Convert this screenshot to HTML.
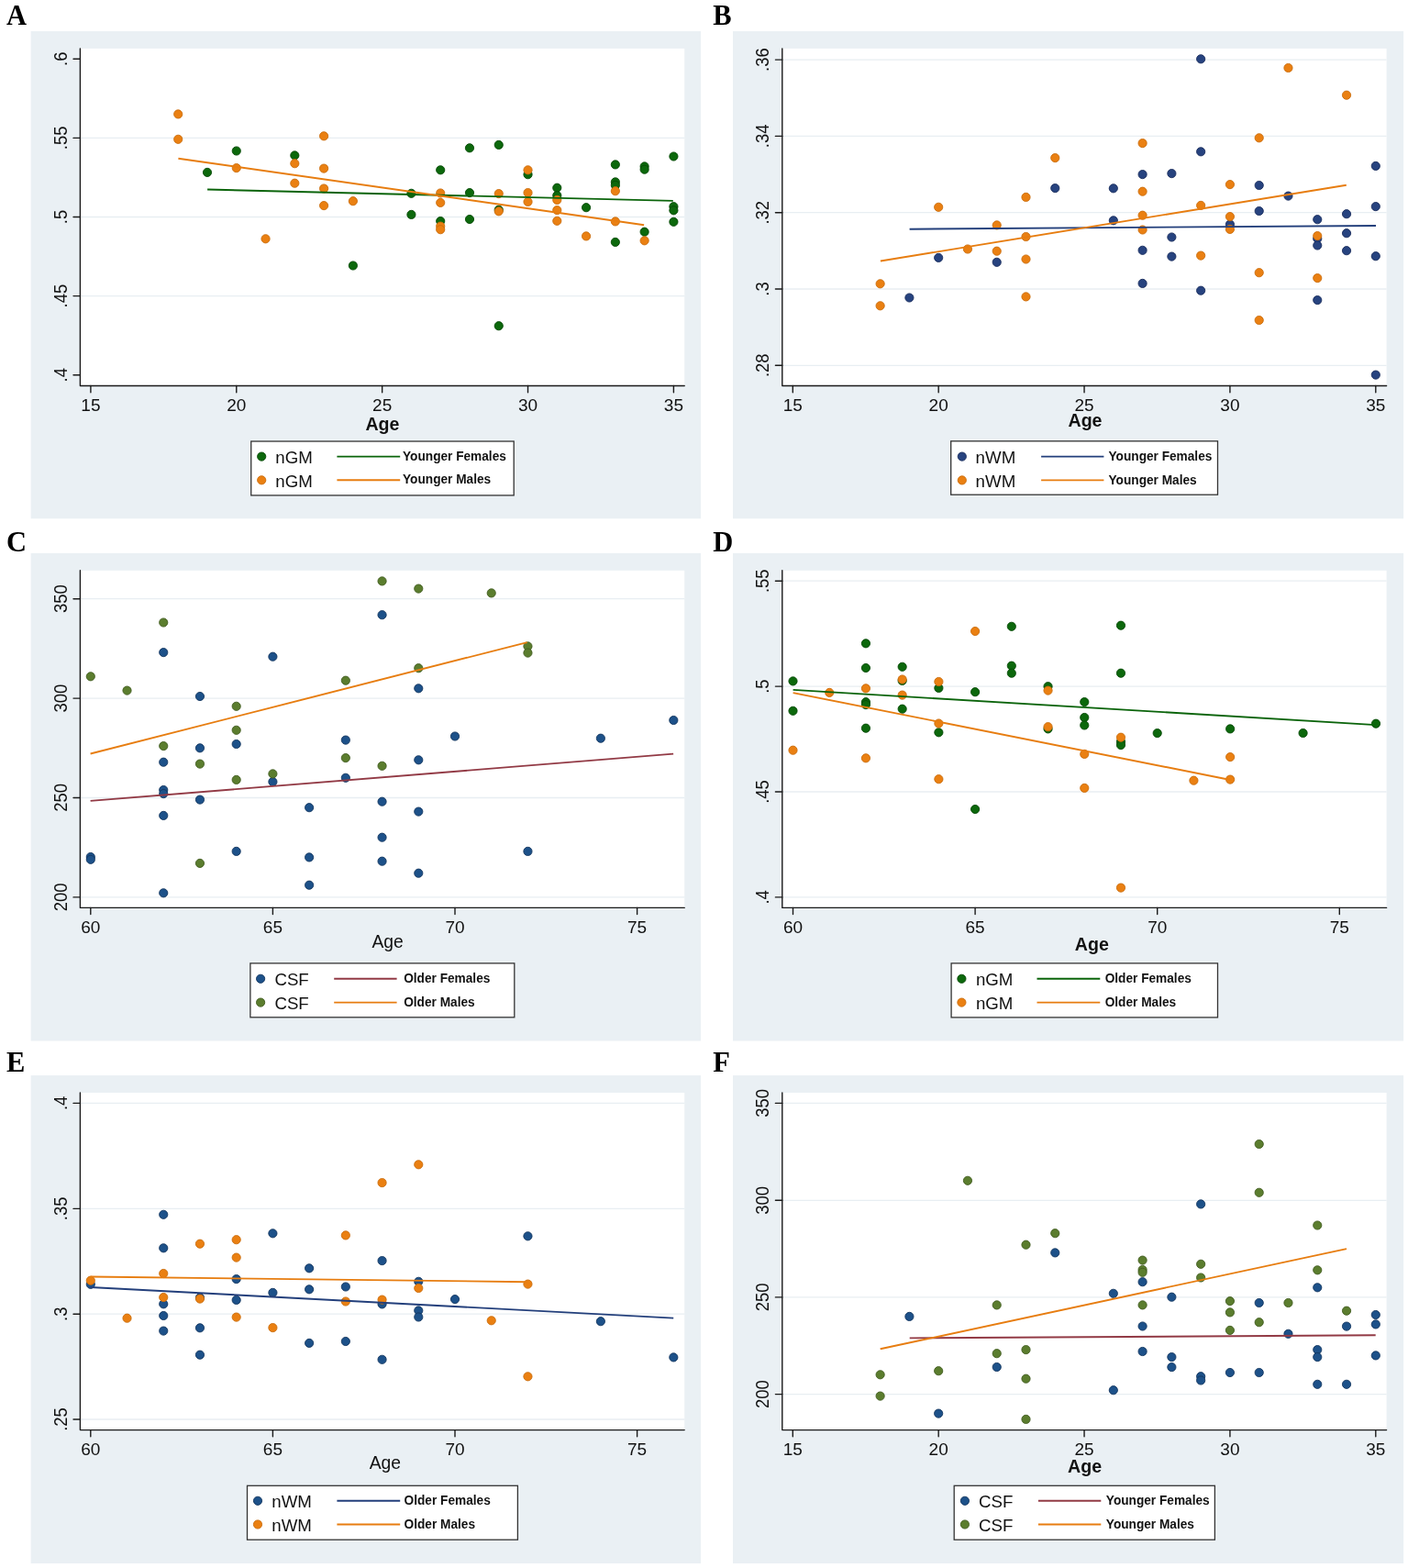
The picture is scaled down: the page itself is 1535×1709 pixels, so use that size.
<!DOCTYPE html>
<html><head><meta charset="utf-8"><title>Figure</title><style>
html,body{margin:0;padding:0;background:#fff;}
body{width:1535px;height:1709px;overflow:hidden;}
svg{display:block;}
text{font-family:"Liberation Sans",Arial,sans-serif;fill:#111;}
.tk{font-size:19px;}
.xt{font-size:19.3px;}
.xtb{font-size:19.6px;font-weight:bold;}
.lg{font-size:18.7px;}
.lgb{font-size:15.2px;font-weight:bold;}
.let{font-family:"Liberation Serif","Times New Roman",serif;font-size:30.5px;font-weight:bold;fill:#000;}
</style></head>
<body><svg width="1535" height="1709" viewBox="0 0 1535 1709">
<rect width="1535" height="1709" fill="#fff"/>
<rect x="33.6" y="34" width="730.4" height="531.3" fill="#eaf0f4"/>
<rect x="87.4" y="52.9" width="658.8" height="367.6" fill="#fff"/>
<line x1="88.4" y1="150.4" x2="746.2" y2="150.4" stroke="#e8eef2" stroke-width="1.3"/>
<line x1="88.4" y1="236.5" x2="746.2" y2="236.5" stroke="#e8eef2" stroke-width="1.3"/>
<line x1="88.4" y1="322.6" x2="746.2" y2="322.6" stroke="#e8eef2" stroke-width="1.3"/>
<circle cx="226" cy="187.9" r="4.6" fill="#0c680c" stroke="#064806" stroke-width="0.9"/>
<circle cx="257.77" cy="164.5" r="4.6" fill="#0c680c" stroke="#064806" stroke-width="0.9"/>
<circle cx="321.32" cy="169.4" r="4.6" fill="#0c680c" stroke="#064806" stroke-width="0.9"/>
<circle cx="384.88" cy="289.5" r="4.6" fill="#0c680c" stroke="#064806" stroke-width="0.9"/>
<circle cx="448.42" cy="210.8" r="4.6" fill="#0c680c" stroke="#064806" stroke-width="0.9"/>
<circle cx="448.42" cy="233.9" r="4.6" fill="#0c680c" stroke="#064806" stroke-width="0.9"/>
<circle cx="480.2" cy="185.3" r="4.6" fill="#0c680c" stroke="#064806" stroke-width="0.9"/>
<circle cx="480.2" cy="241" r="4.6" fill="#0c680c" stroke="#064806" stroke-width="0.9"/>
<circle cx="511.98" cy="161.3" r="4.6" fill="#0c680c" stroke="#064806" stroke-width="0.9"/>
<circle cx="511.98" cy="210.1" r="4.6" fill="#0c680c" stroke="#064806" stroke-width="0.9"/>
<circle cx="511.98" cy="239" r="4.6" fill="#0c680c" stroke="#064806" stroke-width="0.9"/>
<circle cx="543.75" cy="157.9" r="4.6" fill="#0c680c" stroke="#064806" stroke-width="0.9"/>
<circle cx="543.75" cy="228.7" r="4.6" fill="#0c680c" stroke="#064806" stroke-width="0.9"/>
<circle cx="543.75" cy="355.2" r="4.6" fill="#0c680c" stroke="#064806" stroke-width="0.9"/>
<circle cx="575.52" cy="190.2" r="4.6" fill="#0c680c" stroke="#064806" stroke-width="0.9"/>
<circle cx="607.3" cy="204.7" r="4.6" fill="#0c680c" stroke="#064806" stroke-width="0.9"/>
<circle cx="607.3" cy="213.1" r="4.6" fill="#0c680c" stroke="#064806" stroke-width="0.9"/>
<circle cx="639.07" cy="226.2" r="4.6" fill="#0c680c" stroke="#064806" stroke-width="0.9"/>
<circle cx="670.85" cy="179.4" r="4.6" fill="#0c680c" stroke="#064806" stroke-width="0.9"/>
<circle cx="670.85" cy="198.4" r="4.6" fill="#0c680c" stroke="#064806" stroke-width="0.9"/>
<circle cx="670.85" cy="201.9" r="4.6" fill="#0c680c" stroke="#064806" stroke-width="0.9"/>
<circle cx="670.85" cy="263.9" r="4.6" fill="#0c680c" stroke="#064806" stroke-width="0.9"/>
<circle cx="702.62" cy="181.4" r="4.6" fill="#0c680c" stroke="#064806" stroke-width="0.9"/>
<circle cx="702.62" cy="184.7" r="4.6" fill="#0c680c" stroke="#064806" stroke-width="0.9"/>
<circle cx="702.62" cy="252.7" r="4.6" fill="#0c680c" stroke="#064806" stroke-width="0.9"/>
<circle cx="734.4" cy="170.5" r="4.6" fill="#0c680c" stroke="#064806" stroke-width="0.9"/>
<circle cx="734.4" cy="225.2" r="4.6" fill="#0c680c" stroke="#064806" stroke-width="0.9"/>
<circle cx="734.4" cy="229.3" r="4.6" fill="#0c680c" stroke="#064806" stroke-width="0.9"/>
<circle cx="734.4" cy="241.8" r="4.6" fill="#0c680c" stroke="#064806" stroke-width="0.9"/>
<circle cx="194.22" cy="124.4" r="4.6" fill="#ea8012" stroke="#c96c0c" stroke-width="0.9"/>
<circle cx="194.22" cy="151.8" r="4.6" fill="#ea8012" stroke="#c96c0c" stroke-width="0.9"/>
<circle cx="257.77" cy="183.1" r="4.6" fill="#ea8012" stroke="#c96c0c" stroke-width="0.9"/>
<circle cx="289.55" cy="260.3" r="4.6" fill="#ea8012" stroke="#c96c0c" stroke-width="0.9"/>
<circle cx="321.32" cy="178.2" r="4.6" fill="#ea8012" stroke="#c96c0c" stroke-width="0.9"/>
<circle cx="321.32" cy="199.7" r="4.6" fill="#ea8012" stroke="#c96c0c" stroke-width="0.9"/>
<circle cx="353.1" cy="148.3" r="4.6" fill="#ea8012" stroke="#c96c0c" stroke-width="0.9"/>
<circle cx="353.1" cy="183.6" r="4.6" fill="#ea8012" stroke="#c96c0c" stroke-width="0.9"/>
<circle cx="353.1" cy="205.5" r="4.6" fill="#ea8012" stroke="#c96c0c" stroke-width="0.9"/>
<circle cx="353.1" cy="224.1" r="4.6" fill="#ea8012" stroke="#c96c0c" stroke-width="0.9"/>
<circle cx="384.88" cy="219.2" r="4.6" fill="#ea8012" stroke="#c96c0c" stroke-width="0.9"/>
<circle cx="480.2" cy="210.5" r="4.6" fill="#ea8012" stroke="#c96c0c" stroke-width="0.9"/>
<circle cx="480.2" cy="220.9" r="4.6" fill="#ea8012" stroke="#c96c0c" stroke-width="0.9"/>
<circle cx="480.2" cy="246.6" r="4.6" fill="#ea8012" stroke="#c96c0c" stroke-width="0.9"/>
<circle cx="480.2" cy="250.2" r="4.6" fill="#ea8012" stroke="#c96c0c" stroke-width="0.9"/>
<circle cx="543.75" cy="211.1" r="4.6" fill="#ea8012" stroke="#c96c0c" stroke-width="0.9"/>
<circle cx="543.75" cy="230.3" r="4.6" fill="#ea8012" stroke="#c96c0c" stroke-width="0.9"/>
<circle cx="575.52" cy="185.3" r="4.6" fill="#ea8012" stroke="#c96c0c" stroke-width="0.9"/>
<circle cx="575.52" cy="210.1" r="4.6" fill="#ea8012" stroke="#c96c0c" stroke-width="0.9"/>
<circle cx="575.52" cy="219.9" r="4.6" fill="#ea8012" stroke="#c96c0c" stroke-width="0.9"/>
<circle cx="607.3" cy="217.9" r="4.6" fill="#ea8012" stroke="#c96c0c" stroke-width="0.9"/>
<circle cx="607.3" cy="229.1" r="4.6" fill="#ea8012" stroke="#c96c0c" stroke-width="0.9"/>
<circle cx="607.3" cy="240.8" r="4.6" fill="#ea8012" stroke="#c96c0c" stroke-width="0.9"/>
<circle cx="639.07" cy="257.4" r="4.6" fill="#ea8012" stroke="#c96c0c" stroke-width="0.9"/>
<circle cx="670.85" cy="208.2" r="4.6" fill="#ea8012" stroke="#c96c0c" stroke-width="0.9"/>
<circle cx="670.85" cy="241.4" r="4.6" fill="#ea8012" stroke="#c96c0c" stroke-width="0.9"/>
<circle cx="702.62" cy="262.3" r="4.6" fill="#ea8012" stroke="#c96c0c" stroke-width="0.9"/>
<line x1="226.1" y1="206.5" x2="733.8" y2="218.9" stroke="#0b640b" stroke-width="1.9"/>
<line x1="194.4" y1="172.7" x2="702.1" y2="245.3" stroke="#e77d10" stroke-width="1.9"/>
<path d="M87.4 52.9V420.5H746.2" fill="none" stroke="#1a1a1a" stroke-width="1.4" stroke-linejoin="round" stroke-linecap="round"/>
<line x1="80" y1="64.3" x2="87.4" y2="64.3" stroke="#1a1a1a" stroke-width="1.4" stroke-linecap="round"/>
<text class="tk" transform="translate(72.9,64.3) rotate(-90) scale(0.97,1.04)" text-anchor="middle">.6</text>
<line x1="80" y1="150.4" x2="87.4" y2="150.4" stroke="#1a1a1a" stroke-width="1.4" stroke-linecap="round"/>
<text class="tk" transform="translate(72.9,150.4) rotate(-90) scale(0.97,1.04)" text-anchor="middle">.55</text>
<line x1="80" y1="236.5" x2="87.4" y2="236.5" stroke="#1a1a1a" stroke-width="1.4" stroke-linecap="round"/>
<text class="tk" transform="translate(72.9,236.5) rotate(-90) scale(0.97,1.04)" text-anchor="middle">.5</text>
<line x1="80" y1="322.6" x2="87.4" y2="322.6" stroke="#1a1a1a" stroke-width="1.4" stroke-linecap="round"/>
<text class="tk" transform="translate(72.9,322.6) rotate(-90) scale(0.97,1.04)" text-anchor="middle">.45</text>
<line x1="80" y1="408.7" x2="87.4" y2="408.7" stroke="#1a1a1a" stroke-width="1.4" stroke-linecap="round"/>
<text class="tk" transform="translate(72.9,408.7) rotate(-90) scale(0.97,1.04)" text-anchor="middle">.4</text>
<line x1="98.9" y1="420.5" x2="98.9" y2="427.7" stroke="#1a1a1a" stroke-width="1.4" stroke-linecap="round"/>
<text class="tk" x="98.9" y="448.3" text-anchor="middle">15</text>
<line x1="257.77" y1="420.5" x2="257.77" y2="427.7" stroke="#1a1a1a" stroke-width="1.4" stroke-linecap="round"/>
<text class="tk" x="257.77" y="448.3" text-anchor="middle">20</text>
<line x1="416.65" y1="420.5" x2="416.65" y2="427.7" stroke="#1a1a1a" stroke-width="1.4" stroke-linecap="round"/>
<text class="tk" x="416.65" y="448.3" text-anchor="middle">25</text>
<line x1="575.52" y1="420.5" x2="575.52" y2="427.7" stroke="#1a1a1a" stroke-width="1.4" stroke-linecap="round"/>
<text class="tk" x="575.52" y="448.3" text-anchor="middle">30</text>
<line x1="734.4" y1="420.5" x2="734.4" y2="427.7" stroke="#1a1a1a" stroke-width="1.4" stroke-linecap="round"/>
<text class="tk" x="734.4" y="448.3" text-anchor="middle">35</text>
<text class="xtb" x="416.9" y="468.9" text-anchor="middle">Age</text>
<rect x="273.75" y="481" width="286.45" height="58.9" fill="#fff" stroke="#333" stroke-width="1.3"/>
<circle cx="285.2" cy="497.6" r="4.6" fill="#0c680c" stroke="#064806" stroke-width="0.9"/>
<text class="lg" x="300.3" y="504.8">nGM</text>
<line x1="367.4" y1="497.6" x2="436.2" y2="497.6" stroke="#0b640b" stroke-width="1.9"/>
<text class="lgb" transform="translate(439,501.7) scale(0.9,1)">Younger Females</text>
<circle cx="285.2" cy="523.3" r="4.6" fill="#ea8012" stroke="#c96c0c" stroke-width="0.9"/>
<text class="lg" x="300.3" y="530.5">nGM</text>
<line x1="367.4" y1="523.3" x2="436.2" y2="523.3" stroke="#e77d10" stroke-width="1.9"/>
<text class="lgb" transform="translate(439,526.5) scale(0.9,1)">Younger Males</text>
<text class="let" transform="translate(7,26.8) scale(1,1.03)">A</text>
<rect x="799" y="34" width="731.1" height="531.3" fill="#eaf0f4"/>
<rect x="852.8" y="52.9" width="658.8" height="367.6" fill="#fff"/>
<line x1="853.8" y1="65.1" x2="1511.6" y2="65.1" stroke="#e8eef2" stroke-width="1.3"/>
<line x1="853.8" y1="148.4" x2="1511.6" y2="148.4" stroke="#e8eef2" stroke-width="1.3"/>
<line x1="853.8" y1="231.7" x2="1511.6" y2="231.7" stroke="#e8eef2" stroke-width="1.3"/>
<line x1="853.8" y1="315" x2="1511.6" y2="315" stroke="#e8eef2" stroke-width="1.3"/>
<line x1="853.8" y1="398.3" x2="1511.6" y2="398.3" stroke="#e8eef2" stroke-width="1.3"/>
<circle cx="991.4" cy="324.5" r="4.6" fill="#27437f" stroke="#1a2d5c" stroke-width="0.9"/>
<circle cx="1023.17" cy="280.9" r="4.6" fill="#27437f" stroke="#1a2d5c" stroke-width="0.9"/>
<circle cx="1086.72" cy="285.8" r="4.6" fill="#27437f" stroke="#1a2d5c" stroke-width="0.9"/>
<circle cx="1150.27" cy="205.1" r="4.6" fill="#27437f" stroke="#1a2d5c" stroke-width="0.9"/>
<circle cx="1213.82" cy="205.3" r="4.6" fill="#27437f" stroke="#1a2d5c" stroke-width="0.9"/>
<circle cx="1213.82" cy="240.3" r="4.6" fill="#27437f" stroke="#1a2d5c" stroke-width="0.9"/>
<circle cx="1245.6" cy="190.1" r="4.6" fill="#27437f" stroke="#1a2d5c" stroke-width="0.9"/>
<circle cx="1245.6" cy="272.8" r="4.6" fill="#27437f" stroke="#1a2d5c" stroke-width="0.9"/>
<circle cx="1245.6" cy="308.9" r="4.6" fill="#27437f" stroke="#1a2d5c" stroke-width="0.9"/>
<circle cx="1277.38" cy="189.1" r="4.6" fill="#27437f" stroke="#1a2d5c" stroke-width="0.9"/>
<circle cx="1277.38" cy="258.5" r="4.6" fill="#27437f" stroke="#1a2d5c" stroke-width="0.9"/>
<circle cx="1277.38" cy="279.6" r="4.6" fill="#27437f" stroke="#1a2d5c" stroke-width="0.9"/>
<circle cx="1309.15" cy="64.3" r="4.6" fill="#27437f" stroke="#1a2d5c" stroke-width="0.9"/>
<circle cx="1309.15" cy="165.3" r="4.6" fill="#27437f" stroke="#1a2d5c" stroke-width="0.9"/>
<circle cx="1309.15" cy="316.7" r="4.6" fill="#27437f" stroke="#1a2d5c" stroke-width="0.9"/>
<circle cx="1340.92" cy="244.6" r="4.6" fill="#27437f" stroke="#1a2d5c" stroke-width="0.9"/>
<circle cx="1372.7" cy="202" r="4.6" fill="#27437f" stroke="#1a2d5c" stroke-width="0.9"/>
<circle cx="1372.7" cy="230" r="4.6" fill="#27437f" stroke="#1a2d5c" stroke-width="0.9"/>
<circle cx="1404.47" cy="213.6" r="4.6" fill="#27437f" stroke="#1a2d5c" stroke-width="0.9"/>
<circle cx="1436.25" cy="239.2" r="4.6" fill="#27437f" stroke="#1a2d5c" stroke-width="0.9"/>
<circle cx="1436.25" cy="260.1" r="4.6" fill="#27437f" stroke="#1a2d5c" stroke-width="0.9"/>
<circle cx="1436.25" cy="267.5" r="4.6" fill="#27437f" stroke="#1a2d5c" stroke-width="0.9"/>
<circle cx="1436.25" cy="327.1" r="4.6" fill="#27437f" stroke="#1a2d5c" stroke-width="0.9"/>
<circle cx="1468.03" cy="233.2" r="4.6" fill="#27437f" stroke="#1a2d5c" stroke-width="0.9"/>
<circle cx="1468.03" cy="254.2" r="4.6" fill="#27437f" stroke="#1a2d5c" stroke-width="0.9"/>
<circle cx="1468.03" cy="273.2" r="4.6" fill="#27437f" stroke="#1a2d5c" stroke-width="0.9"/>
<circle cx="1499.8" cy="180.9" r="4.6" fill="#27437f" stroke="#1a2d5c" stroke-width="0.9"/>
<circle cx="1499.8" cy="225.1" r="4.6" fill="#27437f" stroke="#1a2d5c" stroke-width="0.9"/>
<circle cx="1499.8" cy="279.2" r="4.6" fill="#27437f" stroke="#1a2d5c" stroke-width="0.9"/>
<circle cx="1499.8" cy="408.6" r="4.6" fill="#27437f" stroke="#1a2d5c" stroke-width="0.9"/>
<circle cx="959.62" cy="309.3" r="4.6" fill="#ea8012" stroke="#c96c0c" stroke-width="0.9"/>
<circle cx="959.62" cy="333.3" r="4.6" fill="#ea8012" stroke="#c96c0c" stroke-width="0.9"/>
<circle cx="1023.17" cy="225.8" r="4.6" fill="#ea8012" stroke="#c96c0c" stroke-width="0.9"/>
<circle cx="1054.95" cy="271.5" r="4.6" fill="#ea8012" stroke="#c96c0c" stroke-width="0.9"/>
<circle cx="1086.72" cy="245.4" r="4.6" fill="#ea8012" stroke="#c96c0c" stroke-width="0.9"/>
<circle cx="1086.72" cy="273.7" r="4.6" fill="#ea8012" stroke="#c96c0c" stroke-width="0.9"/>
<circle cx="1118.5" cy="214.9" r="4.6" fill="#ea8012" stroke="#c96c0c" stroke-width="0.9"/>
<circle cx="1118.5" cy="258" r="4.6" fill="#ea8012" stroke="#c96c0c" stroke-width="0.9"/>
<circle cx="1118.5" cy="282.5" r="4.6" fill="#ea8012" stroke="#c96c0c" stroke-width="0.9"/>
<circle cx="1118.5" cy="323.4" r="4.6" fill="#ea8012" stroke="#c96c0c" stroke-width="0.9"/>
<circle cx="1150.27" cy="172.1" r="4.6" fill="#ea8012" stroke="#c96c0c" stroke-width="0.9"/>
<circle cx="1245.6" cy="156.1" r="4.6" fill="#ea8012" stroke="#c96c0c" stroke-width="0.9"/>
<circle cx="1245.6" cy="208.7" r="4.6" fill="#ea8012" stroke="#c96c0c" stroke-width="0.9"/>
<circle cx="1245.6" cy="234.7" r="4.6" fill="#ea8012" stroke="#c96c0c" stroke-width="0.9"/>
<circle cx="1245.6" cy="250.5" r="4.6" fill="#ea8012" stroke="#c96c0c" stroke-width="0.9"/>
<circle cx="1309.15" cy="223.9" r="4.6" fill="#ea8012" stroke="#c96c0c" stroke-width="0.9"/>
<circle cx="1309.15" cy="278.6" r="4.6" fill="#ea8012" stroke="#c96c0c" stroke-width="0.9"/>
<circle cx="1340.92" cy="201.1" r="4.6" fill="#ea8012" stroke="#c96c0c" stroke-width="0.9"/>
<circle cx="1340.92" cy="236.1" r="4.6" fill="#ea8012" stroke="#c96c0c" stroke-width="0.9"/>
<circle cx="1340.92" cy="249.9" r="4.6" fill="#ea8012" stroke="#c96c0c" stroke-width="0.9"/>
<circle cx="1372.7" cy="150.3" r="4.6" fill="#ea8012" stroke="#c96c0c" stroke-width="0.9"/>
<circle cx="1372.7" cy="297.2" r="4.6" fill="#ea8012" stroke="#c96c0c" stroke-width="0.9"/>
<circle cx="1372.7" cy="349" r="4.6" fill="#ea8012" stroke="#c96c0c" stroke-width="0.9"/>
<circle cx="1404.47" cy="74" r="4.6" fill="#ea8012" stroke="#c96c0c" stroke-width="0.9"/>
<circle cx="1436.25" cy="257.1" r="4.6" fill="#ea8012" stroke="#c96c0c" stroke-width="0.9"/>
<circle cx="1436.25" cy="303.1" r="4.6" fill="#ea8012" stroke="#c96c0c" stroke-width="0.9"/>
<circle cx="1468.03" cy="103.7" r="4.6" fill="#ea8012" stroke="#c96c0c" stroke-width="0.9"/>
<line x1="991.6" y1="249.7" x2="1500" y2="246" stroke="#233f7b" stroke-width="1.9"/>
<line x1="959.9" y1="284.5" x2="1467.8" y2="201.7" stroke="#e77d10" stroke-width="1.9"/>
<path d="M852.8 52.9V420.5H1511.6" fill="none" stroke="#1a1a1a" stroke-width="1.4" stroke-linejoin="round" stroke-linecap="round"/>
<line x1="845.4" y1="65.1" x2="852.8" y2="65.1" stroke="#1a1a1a" stroke-width="1.4" stroke-linecap="round"/>
<text class="tk" transform="translate(838.3,65.1) rotate(-90) scale(0.97,1.04)" text-anchor="middle">.36</text>
<line x1="845.4" y1="148.4" x2="852.8" y2="148.4" stroke="#1a1a1a" stroke-width="1.4" stroke-linecap="round"/>
<text class="tk" transform="translate(838.3,148.4) rotate(-90) scale(0.97,1.04)" text-anchor="middle">.34</text>
<line x1="845.4" y1="231.7" x2="852.8" y2="231.7" stroke="#1a1a1a" stroke-width="1.4" stroke-linecap="round"/>
<text class="tk" transform="translate(838.3,231.7) rotate(-90) scale(0.97,1.04)" text-anchor="middle">.32</text>
<line x1="845.4" y1="315" x2="852.8" y2="315" stroke="#1a1a1a" stroke-width="1.4" stroke-linecap="round"/>
<text class="tk" transform="translate(838.3,315) rotate(-90) scale(0.97,1.04)" text-anchor="middle">.3</text>
<line x1="845.4" y1="398.3" x2="852.8" y2="398.3" stroke="#1a1a1a" stroke-width="1.4" stroke-linecap="round"/>
<text class="tk" transform="translate(838.3,398.3) rotate(-90) scale(0.97,1.04)" text-anchor="middle">.28</text>
<line x1="864.3" y1="420.5" x2="864.3" y2="427.7" stroke="#1a1a1a" stroke-width="1.4" stroke-linecap="round"/>
<text class="tk" x="864.3" y="448.3" text-anchor="middle">15</text>
<line x1="1023.17" y1="420.5" x2="1023.17" y2="427.7" stroke="#1a1a1a" stroke-width="1.4" stroke-linecap="round"/>
<text class="tk" x="1023.17" y="448.3" text-anchor="middle">20</text>
<line x1="1182.05" y1="420.5" x2="1182.05" y2="427.7" stroke="#1a1a1a" stroke-width="1.4" stroke-linecap="round"/>
<text class="tk" x="1182.05" y="448.3" text-anchor="middle">25</text>
<line x1="1340.92" y1="420.5" x2="1340.92" y2="427.7" stroke="#1a1a1a" stroke-width="1.4" stroke-linecap="round"/>
<text class="tk" x="1340.92" y="448.3" text-anchor="middle">30</text>
<line x1="1499.8" y1="420.5" x2="1499.8" y2="427.7" stroke="#1a1a1a" stroke-width="1.4" stroke-linecap="round"/>
<text class="tk" x="1499.8" y="448.3" text-anchor="middle">35</text>
<text class="xtb" x="1183" y="465.4" text-anchor="middle">Age</text>
<rect x="1036.7" y="480.8" width="290.8" height="58.4" fill="#fff" stroke="#333" stroke-width="1.3"/>
<circle cx="1048.8" cy="497.6" r="4.6" fill="#27437f" stroke="#1a2d5c" stroke-width="0.9"/>
<text class="lg" x="1063.6" y="504.8">nWM</text>
<line x1="1135.1" y1="497.6" x2="1203.4" y2="497.6" stroke="#233f7b" stroke-width="1.9"/>
<text class="lgb" transform="translate(1208.5,501.7) scale(0.9,1)">Younger Females</text>
<circle cx="1048.8" cy="523.4" r="4.6" fill="#ea8012" stroke="#c96c0c" stroke-width="0.9"/>
<text class="lg" x="1063.6" y="530.6">nWM</text>
<line x1="1135.1" y1="523.4" x2="1203.4" y2="523.4" stroke="#e77d10" stroke-width="1.9"/>
<text class="lgb" transform="translate(1208.5,527.9) scale(0.9,1)">Younger Males</text>
<text class="let" transform="translate(777.3,26.8) scale(1,1.03)">B</text>
<rect x="33.6" y="602.9" width="730.4" height="531.6" fill="#eaf0f4"/>
<rect x="87.4" y="621.8" width="658.8" height="367.6" fill="#fff"/>
<line x1="88.4" y1="652.7" x2="746.2" y2="652.7" stroke="#e8eef2" stroke-width="1.3"/>
<line x1="88.4" y1="761.1" x2="746.2" y2="761.1" stroke="#e8eef2" stroke-width="1.3"/>
<line x1="88.4" y1="869.5" x2="746.2" y2="869.5" stroke="#e8eef2" stroke-width="1.3"/>
<line x1="88.4" y1="977.9" x2="746.2" y2="977.9" stroke="#e8eef2" stroke-width="1.3"/>
<circle cx="98.8" cy="934" r="4.6" fill="#1d5189" stroke="#13365f" stroke-width="0.9"/>
<circle cx="98.8" cy="936.8" r="4.6" fill="#1d5189" stroke="#13365f" stroke-width="0.9"/>
<circle cx="178.24" cy="711.1" r="4.6" fill="#1d5189" stroke="#13365f" stroke-width="0.9"/>
<circle cx="178.24" cy="830.7" r="4.6" fill="#1d5189" stroke="#13365f" stroke-width="0.9"/>
<circle cx="178.24" cy="861" r="4.6" fill="#1d5189" stroke="#13365f" stroke-width="0.9"/>
<circle cx="178.24" cy="865.1" r="4.6" fill="#1d5189" stroke="#13365f" stroke-width="0.9"/>
<circle cx="178.24" cy="888.9" r="4.6" fill="#1d5189" stroke="#13365f" stroke-width="0.9"/>
<circle cx="178.24" cy="973.3" r="4.6" fill="#1d5189" stroke="#13365f" stroke-width="0.9"/>
<circle cx="217.96" cy="759" r="4.6" fill="#1d5189" stroke="#13365f" stroke-width="0.9"/>
<circle cx="217.96" cy="815.3" r="4.6" fill="#1d5189" stroke="#13365f" stroke-width="0.9"/>
<circle cx="217.96" cy="871.6" r="4.6" fill="#1d5189" stroke="#13365f" stroke-width="0.9"/>
<circle cx="257.68" cy="811" r="4.6" fill="#1d5189" stroke="#13365f" stroke-width="0.9"/>
<circle cx="257.68" cy="927.9" r="4.6" fill="#1d5189" stroke="#13365f" stroke-width="0.9"/>
<circle cx="297.4" cy="715.7" r="4.6" fill="#1d5189" stroke="#13365f" stroke-width="0.9"/>
<circle cx="297.4" cy="852.1" r="4.6" fill="#1d5189" stroke="#13365f" stroke-width="0.9"/>
<circle cx="337.12" cy="880.2" r="4.6" fill="#1d5189" stroke="#13365f" stroke-width="0.9"/>
<circle cx="337.12" cy="934.4" r="4.6" fill="#1d5189" stroke="#13365f" stroke-width="0.9"/>
<circle cx="337.12" cy="964.7" r="4.6" fill="#1d5189" stroke="#13365f" stroke-width="0.9"/>
<circle cx="376.84" cy="806.6" r="4.6" fill="#1d5189" stroke="#13365f" stroke-width="0.9"/>
<circle cx="376.84" cy="847.8" r="4.6" fill="#1d5189" stroke="#13365f" stroke-width="0.9"/>
<circle cx="416.56" cy="670.2" r="4.6" fill="#1d5189" stroke="#13365f" stroke-width="0.9"/>
<circle cx="416.56" cy="873.7" r="4.6" fill="#1d5189" stroke="#13365f" stroke-width="0.9"/>
<circle cx="416.56" cy="912.7" r="4.6" fill="#1d5189" stroke="#13365f" stroke-width="0.9"/>
<circle cx="416.56" cy="938.7" r="4.6" fill="#1d5189" stroke="#13365f" stroke-width="0.9"/>
<circle cx="456.28" cy="750.3" r="4.6" fill="#1d5189" stroke="#13365f" stroke-width="0.9"/>
<circle cx="456.28" cy="828.3" r="4.6" fill="#1d5189" stroke="#13365f" stroke-width="0.9"/>
<circle cx="456.28" cy="884.6" r="4.6" fill="#1d5189" stroke="#13365f" stroke-width="0.9"/>
<circle cx="456.28" cy="951.7" r="4.6" fill="#1d5189" stroke="#13365f" stroke-width="0.9"/>
<circle cx="496" cy="802.5" r="4.6" fill="#1d5189" stroke="#13365f" stroke-width="0.9"/>
<circle cx="575.44" cy="927.9" r="4.6" fill="#1d5189" stroke="#13365f" stroke-width="0.9"/>
<circle cx="654.88" cy="804.7" r="4.6" fill="#1d5189" stroke="#13365f" stroke-width="0.9"/>
<circle cx="734.32" cy="785" r="4.6" fill="#1d5189" stroke="#13365f" stroke-width="0.9"/>
<circle cx="98.8" cy="737.3" r="4.6" fill="#5b7d2e" stroke="#415b1f" stroke-width="0.9"/>
<circle cx="138.52" cy="752.6" r="4.6" fill="#5b7d2e" stroke="#415b1f" stroke-width="0.9"/>
<circle cx="178.24" cy="678.5" r="4.6" fill="#5b7d2e" stroke="#415b1f" stroke-width="0.9"/>
<circle cx="178.24" cy="813.1" r="4.6" fill="#5b7d2e" stroke="#415b1f" stroke-width="0.9"/>
<circle cx="217.96" cy="832.6" r="4.6" fill="#5b7d2e" stroke="#415b1f" stroke-width="0.9"/>
<circle cx="217.96" cy="940.9" r="4.6" fill="#5b7d2e" stroke="#415b1f" stroke-width="0.9"/>
<circle cx="257.68" cy="769.8" r="4.6" fill="#5b7d2e" stroke="#415b1f" stroke-width="0.9"/>
<circle cx="257.68" cy="795.8" r="4.6" fill="#5b7d2e" stroke="#415b1f" stroke-width="0.9"/>
<circle cx="257.68" cy="849.9" r="4.6" fill="#5b7d2e" stroke="#415b1f" stroke-width="0.9"/>
<circle cx="297.4" cy="843.4" r="4.6" fill="#5b7d2e" stroke="#415b1f" stroke-width="0.9"/>
<circle cx="376.84" cy="741.7" r="4.6" fill="#5b7d2e" stroke="#415b1f" stroke-width="0.9"/>
<circle cx="376.84" cy="826.1" r="4.6" fill="#5b7d2e" stroke="#415b1f" stroke-width="0.9"/>
<circle cx="416.56" cy="633.4" r="4.6" fill="#5b7d2e" stroke="#415b1f" stroke-width="0.9"/>
<circle cx="416.56" cy="834.8" r="4.6" fill="#5b7d2e" stroke="#415b1f" stroke-width="0.9"/>
<circle cx="456.28" cy="641.6" r="4.6" fill="#5b7d2e" stroke="#415b1f" stroke-width="0.9"/>
<circle cx="456.28" cy="728.2" r="4.6" fill="#5b7d2e" stroke="#415b1f" stroke-width="0.9"/>
<circle cx="535.72" cy="646.4" r="4.6" fill="#5b7d2e" stroke="#415b1f" stroke-width="0.9"/>
<circle cx="575.44" cy="704.4" r="4.6" fill="#5b7d2e" stroke="#415b1f" stroke-width="0.9"/>
<circle cx="575.44" cy="711.6" r="4.6" fill="#5b7d2e" stroke="#415b1f" stroke-width="0.9"/>
<line x1="98.6" y1="872.9" x2="734.1" y2="821.6" stroke="#923a45" stroke-width="1.9"/>
<line x1="98.6" y1="821.5" x2="574.7" y2="700.1" stroke="#e77d10" stroke-width="1.9"/>
<path d="M87.4 621.8V989.4H746.2" fill="none" stroke="#1a1a1a" stroke-width="1.4" stroke-linejoin="round" stroke-linecap="round"/>
<line x1="80" y1="652.7" x2="87.4" y2="652.7" stroke="#1a1a1a" stroke-width="1.4" stroke-linecap="round"/>
<text class="tk" transform="translate(72.9,652.7) rotate(-90) scale(0.97,1.04)" text-anchor="middle">350</text>
<line x1="80" y1="761.1" x2="87.4" y2="761.1" stroke="#1a1a1a" stroke-width="1.4" stroke-linecap="round"/>
<text class="tk" transform="translate(72.9,761.1) rotate(-90) scale(0.97,1.04)" text-anchor="middle">300</text>
<line x1="80" y1="869.5" x2="87.4" y2="869.5" stroke="#1a1a1a" stroke-width="1.4" stroke-linecap="round"/>
<text class="tk" transform="translate(72.9,869.5) rotate(-90) scale(0.97,1.04)" text-anchor="middle">250</text>
<line x1="80" y1="977.9" x2="87.4" y2="977.9" stroke="#1a1a1a" stroke-width="1.4" stroke-linecap="round"/>
<text class="tk" transform="translate(72.9,977.9) rotate(-90) scale(0.97,1.04)" text-anchor="middle">200</text>
<line x1="98.8" y1="989.4" x2="98.8" y2="996.6" stroke="#1a1a1a" stroke-width="1.4" stroke-linecap="round"/>
<text class="tk" x="98.8" y="1017.2" text-anchor="middle">60</text>
<line x1="297.4" y1="989.4" x2="297.4" y2="996.6" stroke="#1a1a1a" stroke-width="1.4" stroke-linecap="round"/>
<text class="tk" x="297.4" y="1017.2" text-anchor="middle">65</text>
<line x1="496" y1="989.4" x2="496" y2="996.6" stroke="#1a1a1a" stroke-width="1.4" stroke-linecap="round"/>
<text class="tk" x="496" y="1017.2" text-anchor="middle">70</text>
<line x1="694.6" y1="989.4" x2="694.6" y2="996.6" stroke="#1a1a1a" stroke-width="1.4" stroke-linecap="round"/>
<text class="tk" x="694.6" y="1017.2" text-anchor="middle">75</text>
<text class="xt" x="422.6" y="1032.9" text-anchor="middle">Age</text>
<rect x="272.9" y="1049.9" width="287.9" height="58.9" fill="#fff" stroke="#333" stroke-width="1.3"/>
<circle cx="284.1" cy="1066.8" r="4.6" fill="#1d5189" stroke="#13365f" stroke-width="0.9"/>
<text class="lg" x="299.4" y="1074">CSF</text>
<line x1="364.2" y1="1066.8" x2="432.6" y2="1066.8" stroke="#923a45" stroke-width="1.9"/>
<text class="lgb" transform="translate(440.2,1070.9) scale(0.9,1)">Older Females</text>
<circle cx="284.1" cy="1092.6" r="4.6" fill="#5b7d2e" stroke="#415b1f" stroke-width="0.9"/>
<text class="lg" x="299.4" y="1099.8">CSF</text>
<line x1="364.2" y1="1092.6" x2="432.6" y2="1092.6" stroke="#e77d10" stroke-width="1.9"/>
<text class="lgb" transform="translate(440.2,1097.4) scale(0.9,1)">Older Males</text>
<text class="let" transform="translate(7,600.8) scale(1,1.03)">C</text>
<rect x="799" y="602.9" width="731.1" height="531.6" fill="#eaf0f4"/>
<rect x="852.8" y="621.8" width="658.8" height="367.6" fill="#fff"/>
<line x1="853.8" y1="633.2" x2="1511.6" y2="633.2" stroke="#e8eef2" stroke-width="1.3"/>
<line x1="853.8" y1="748.1" x2="1511.6" y2="748.1" stroke="#e8eef2" stroke-width="1.3"/>
<line x1="853.8" y1="863" x2="1511.6" y2="863" stroke="#e8eef2" stroke-width="1.3"/>
<line x1="853.8" y1="977.9" x2="1511.6" y2="977.9" stroke="#e8eef2" stroke-width="1.3"/>
<circle cx="864.5" cy="742.4" r="4.6" fill="#0c680c" stroke="#064806" stroke-width="0.9"/>
<circle cx="864.5" cy="774.8" r="4.6" fill="#0c680c" stroke="#064806" stroke-width="0.9"/>
<circle cx="943.94" cy="701.3" r="4.6" fill="#0c680c" stroke="#064806" stroke-width="0.9"/>
<circle cx="943.94" cy="728" r="4.6" fill="#0c680c" stroke="#064806" stroke-width="0.9"/>
<circle cx="943.94" cy="765.2" r="4.6" fill="#0c680c" stroke="#064806" stroke-width="0.9"/>
<circle cx="943.94" cy="768.1" r="4.6" fill="#0c680c" stroke="#064806" stroke-width="0.9"/>
<circle cx="943.94" cy="793.7" r="4.6" fill="#0c680c" stroke="#064806" stroke-width="0.9"/>
<circle cx="983.66" cy="726.8" r="4.6" fill="#0c680c" stroke="#064806" stroke-width="0.9"/>
<circle cx="983.66" cy="741.9" r="4.6" fill="#0c680c" stroke="#064806" stroke-width="0.9"/>
<circle cx="983.66" cy="772.7" r="4.6" fill="#0c680c" stroke="#064806" stroke-width="0.9"/>
<circle cx="1023.38" cy="749.9" r="4.6" fill="#0c680c" stroke="#064806" stroke-width="0.9"/>
<circle cx="1023.38" cy="798.3" r="4.6" fill="#0c680c" stroke="#064806" stroke-width="0.9"/>
<circle cx="1063.1" cy="754.2" r="4.6" fill="#0c680c" stroke="#064806" stroke-width="0.9"/>
<circle cx="1063.1" cy="882" r="4.6" fill="#0c680c" stroke="#064806" stroke-width="0.9"/>
<circle cx="1102.82" cy="682.8" r="4.6" fill="#0c680c" stroke="#064806" stroke-width="0.9"/>
<circle cx="1102.82" cy="725.7" r="4.6" fill="#0c680c" stroke="#064806" stroke-width="0.9"/>
<circle cx="1102.82" cy="733.7" r="4.6" fill="#0c680c" stroke="#064806" stroke-width="0.9"/>
<circle cx="1142.54" cy="748.2" r="4.6" fill="#0c680c" stroke="#064806" stroke-width="0.9"/>
<circle cx="1142.54" cy="794.4" r="4.6" fill="#0c680c" stroke="#064806" stroke-width="0.9"/>
<circle cx="1182.26" cy="765.1" r="4.6" fill="#0c680c" stroke="#064806" stroke-width="0.9"/>
<circle cx="1182.26" cy="782" r="4.6" fill="#0c680c" stroke="#064806" stroke-width="0.9"/>
<circle cx="1182.26" cy="790.5" r="4.6" fill="#0c680c" stroke="#064806" stroke-width="0.9"/>
<circle cx="1221.98" cy="681.7" r="4.6" fill="#0c680c" stroke="#064806" stroke-width="0.9"/>
<circle cx="1221.98" cy="733.7" r="4.6" fill="#0c680c" stroke="#064806" stroke-width="0.9"/>
<circle cx="1221.98" cy="808.4" r="4.6" fill="#0c680c" stroke="#064806" stroke-width="0.9"/>
<circle cx="1221.98" cy="812.1" r="4.6" fill="#0c680c" stroke="#064806" stroke-width="0.9"/>
<circle cx="1261.7" cy="799.1" r="4.6" fill="#0c680c" stroke="#064806" stroke-width="0.9"/>
<circle cx="1341.14" cy="794.4" r="4.6" fill="#0c680c" stroke="#064806" stroke-width="0.9"/>
<circle cx="1420.58" cy="799" r="4.6" fill="#0c680c" stroke="#064806" stroke-width="0.9"/>
<circle cx="1500.02" cy="788.7" r="4.6" fill="#0c680c" stroke="#064806" stroke-width="0.9"/>
<circle cx="864.5" cy="817.7" r="4.6" fill="#ea8012" stroke="#c96c0c" stroke-width="0.9"/>
<circle cx="904.22" cy="754.9" r="4.6" fill="#ea8012" stroke="#c96c0c" stroke-width="0.9"/>
<circle cx="943.94" cy="750.3" r="4.6" fill="#ea8012" stroke="#c96c0c" stroke-width="0.9"/>
<circle cx="943.94" cy="826.3" r="4.6" fill="#ea8012" stroke="#c96c0c" stroke-width="0.9"/>
<circle cx="983.66" cy="740.5" r="4.6" fill="#ea8012" stroke="#c96c0c" stroke-width="0.9"/>
<circle cx="983.66" cy="757.6" r="4.6" fill="#ea8012" stroke="#c96c0c" stroke-width="0.9"/>
<circle cx="1023.38" cy="743" r="4.6" fill="#ea8012" stroke="#c96c0c" stroke-width="0.9"/>
<circle cx="1023.38" cy="788.5" r="4.6" fill="#ea8012" stroke="#c96c0c" stroke-width="0.9"/>
<circle cx="1023.38" cy="849.2" r="4.6" fill="#ea8012" stroke="#c96c0c" stroke-width="0.9"/>
<circle cx="1063.1" cy="688" r="4.6" fill="#ea8012" stroke="#c96c0c" stroke-width="0.9"/>
<circle cx="1142.54" cy="752.6" r="4.6" fill="#ea8012" stroke="#c96c0c" stroke-width="0.9"/>
<circle cx="1142.54" cy="792.2" r="4.6" fill="#ea8012" stroke="#c96c0c" stroke-width="0.9"/>
<circle cx="1182.26" cy="821.9" r="4.6" fill="#ea8012" stroke="#c96c0c" stroke-width="0.9"/>
<circle cx="1182.26" cy="858.9" r="4.6" fill="#ea8012" stroke="#c96c0c" stroke-width="0.9"/>
<circle cx="1221.98" cy="803.7" r="4.6" fill="#ea8012" stroke="#c96c0c" stroke-width="0.9"/>
<circle cx="1221.98" cy="967.6" r="4.6" fill="#ea8012" stroke="#c96c0c" stroke-width="0.9"/>
<circle cx="1301.42" cy="850.7" r="4.6" fill="#ea8012" stroke="#c96c0c" stroke-width="0.9"/>
<circle cx="1341.14" cy="825.1" r="4.6" fill="#ea8012" stroke="#c96c0c" stroke-width="0.9"/>
<circle cx="1341.14" cy="849.6" r="4.6" fill="#ea8012" stroke="#c96c0c" stroke-width="0.9"/>
<line x1="864.6" y1="751.9" x2="1499.7" y2="790.1" stroke="#0b640b" stroke-width="1.9"/>
<line x1="864.6" y1="755.1" x2="1341.2" y2="850" stroke="#e77d10" stroke-width="1.9"/>
<path d="M852.8 621.8V989.4H1511.6" fill="none" stroke="#1a1a1a" stroke-width="1.4" stroke-linejoin="round" stroke-linecap="round"/>
<line x1="845.4" y1="633.2" x2="852.8" y2="633.2" stroke="#1a1a1a" stroke-width="1.4" stroke-linecap="round"/>
<text class="tk" transform="translate(838.3,633.2) rotate(-90) scale(0.97,1.04)" text-anchor="middle">.55</text>
<line x1="845.4" y1="748.1" x2="852.8" y2="748.1" stroke="#1a1a1a" stroke-width="1.4" stroke-linecap="round"/>
<text class="tk" transform="translate(838.3,748.1) rotate(-90) scale(0.97,1.04)" text-anchor="middle">.5</text>
<line x1="845.4" y1="863" x2="852.8" y2="863" stroke="#1a1a1a" stroke-width="1.4" stroke-linecap="round"/>
<text class="tk" transform="translate(838.3,863) rotate(-90) scale(0.97,1.04)" text-anchor="middle">.45</text>
<line x1="845.4" y1="977.9" x2="852.8" y2="977.9" stroke="#1a1a1a" stroke-width="1.4" stroke-linecap="round"/>
<text class="tk" transform="translate(838.3,977.9) rotate(-90) scale(0.97,1.04)" text-anchor="middle">.4</text>
<line x1="864.5" y1="989.4" x2="864.5" y2="996.6" stroke="#1a1a1a" stroke-width="1.4" stroke-linecap="round"/>
<text class="tk" x="864.5" y="1017.2" text-anchor="middle">60</text>
<line x1="1063.1" y1="989.4" x2="1063.1" y2="996.6" stroke="#1a1a1a" stroke-width="1.4" stroke-linecap="round"/>
<text class="tk" x="1063.1" y="1017.2" text-anchor="middle">65</text>
<line x1="1261.7" y1="989.4" x2="1261.7" y2="996.6" stroke="#1a1a1a" stroke-width="1.4" stroke-linecap="round"/>
<text class="tk" x="1261.7" y="1017.2" text-anchor="middle">70</text>
<line x1="1460.3" y1="989.4" x2="1460.3" y2="996.6" stroke="#1a1a1a" stroke-width="1.4" stroke-linecap="round"/>
<text class="tk" x="1460.3" y="1017.2" text-anchor="middle">75</text>
<text class="xtb" x="1190.3" y="1035.8" text-anchor="middle">Age</text>
<rect x="1037.1" y="1049.9" width="290.4" height="59" fill="#fff" stroke="#333" stroke-width="1.3"/>
<circle cx="1048.4" cy="1066.8" r="4.6" fill="#0c680c" stroke="#064806" stroke-width="0.9"/>
<text class="lg" x="1063.9" y="1074">nGM</text>
<line x1="1130.5" y1="1066.8" x2="1199.3" y2="1066.8" stroke="#0b640b" stroke-width="1.9"/>
<text class="lgb" transform="translate(1204.7,1070.9) scale(0.9,1)">Older Females</text>
<circle cx="1048.4" cy="1092.6" r="4.6" fill="#ea8012" stroke="#c96c0c" stroke-width="0.9"/>
<text class="lg" x="1063.9" y="1099.8">nGM</text>
<line x1="1130.5" y1="1092.6" x2="1199.3" y2="1092.6" stroke="#e77d10" stroke-width="1.9"/>
<text class="lgb" transform="translate(1204.7,1097.4) scale(0.9,1)">Older Males</text>
<text class="let" transform="translate(777.3,600.8) scale(1,1.03)">D</text>
<rect x="33.6" y="1172.1" width="730.4" height="531.9" fill="#eaf0f4"/>
<rect x="87.4" y="1191" width="658.8" height="367.6" fill="#fff"/>
<line x1="88.4" y1="1202.4" x2="746.2" y2="1202.4" stroke="#e8eef2" stroke-width="1.3"/>
<line x1="88.4" y1="1317.4" x2="746.2" y2="1317.4" stroke="#e8eef2" stroke-width="1.3"/>
<line x1="88.4" y1="1432.2" x2="746.2" y2="1432.2" stroke="#e8eef2" stroke-width="1.3"/>
<line x1="88.4" y1="1547" x2="746.2" y2="1547" stroke="#e8eef2" stroke-width="1.3"/>
<circle cx="98.8" cy="1399.8" r="4.6" fill="#1d5189" stroke="#13365f" stroke-width="0.9"/>
<circle cx="178.24" cy="1323.8" r="4.6" fill="#1d5189" stroke="#13365f" stroke-width="0.9"/>
<circle cx="178.24" cy="1360.3" r="4.6" fill="#1d5189" stroke="#13365f" stroke-width="0.9"/>
<circle cx="178.24" cy="1421.3" r="4.6" fill="#1d5189" stroke="#13365f" stroke-width="0.9"/>
<circle cx="178.24" cy="1434" r="4.6" fill="#1d5189" stroke="#13365f" stroke-width="0.9"/>
<circle cx="178.24" cy="1450.6" r="4.6" fill="#1d5189" stroke="#13365f" stroke-width="0.9"/>
<circle cx="217.96" cy="1414.3" r="4.6" fill="#1d5189" stroke="#13365f" stroke-width="0.9"/>
<circle cx="217.96" cy="1447.3" r="4.6" fill="#1d5189" stroke="#13365f" stroke-width="0.9"/>
<circle cx="217.96" cy="1476.7" r="4.6" fill="#1d5189" stroke="#13365f" stroke-width="0.9"/>
<circle cx="257.68" cy="1394.1" r="4.6" fill="#1d5189" stroke="#13365f" stroke-width="0.9"/>
<circle cx="257.68" cy="1416.9" r="4.6" fill="#1d5189" stroke="#13365f" stroke-width="0.9"/>
<circle cx="297.4" cy="1344.3" r="4.6" fill="#1d5189" stroke="#13365f" stroke-width="0.9"/>
<circle cx="297.4" cy="1408.9" r="4.6" fill="#1d5189" stroke="#13365f" stroke-width="0.9"/>
<circle cx="337.12" cy="1382.3" r="4.6" fill="#1d5189" stroke="#13365f" stroke-width="0.9"/>
<circle cx="337.12" cy="1405.3" r="4.6" fill="#1d5189" stroke="#13365f" stroke-width="0.9"/>
<circle cx="337.12" cy="1463.9" r="4.6" fill="#1d5189" stroke="#13365f" stroke-width="0.9"/>
<circle cx="376.84" cy="1402.5" r="4.6" fill="#1d5189" stroke="#13365f" stroke-width="0.9"/>
<circle cx="376.84" cy="1462" r="4.6" fill="#1d5189" stroke="#13365f" stroke-width="0.9"/>
<circle cx="416.56" cy="1374.1" r="4.6" fill="#1d5189" stroke="#13365f" stroke-width="0.9"/>
<circle cx="416.56" cy="1421.4" r="4.6" fill="#1d5189" stroke="#13365f" stroke-width="0.9"/>
<circle cx="416.56" cy="1481.8" r="4.6" fill="#1d5189" stroke="#13365f" stroke-width="0.9"/>
<circle cx="456.28" cy="1396.8" r="4.6" fill="#1d5189" stroke="#13365f" stroke-width="0.9"/>
<circle cx="456.28" cy="1428.4" r="4.6" fill="#1d5189" stroke="#13365f" stroke-width="0.9"/>
<circle cx="456.28" cy="1435.5" r="4.6" fill="#1d5189" stroke="#13365f" stroke-width="0.9"/>
<circle cx="496" cy="1416.1" r="4.6" fill="#1d5189" stroke="#13365f" stroke-width="0.9"/>
<circle cx="575.44" cy="1347.3" r="4.6" fill="#1d5189" stroke="#13365f" stroke-width="0.9"/>
<circle cx="654.88" cy="1440.2" r="4.6" fill="#1d5189" stroke="#13365f" stroke-width="0.9"/>
<circle cx="734.32" cy="1479.4" r="4.6" fill="#1d5189" stroke="#13365f" stroke-width="0.9"/>
<circle cx="98.8" cy="1395.7" r="4.6" fill="#ea8012" stroke="#c96c0c" stroke-width="0.9"/>
<circle cx="138.52" cy="1436.7" r="4.6" fill="#ea8012" stroke="#c96c0c" stroke-width="0.9"/>
<circle cx="178.24" cy="1388" r="4.6" fill="#ea8012" stroke="#c96c0c" stroke-width="0.9"/>
<circle cx="178.24" cy="1414" r="4.6" fill="#ea8012" stroke="#c96c0c" stroke-width="0.9"/>
<circle cx="217.96" cy="1355.7" r="4.6" fill="#ea8012" stroke="#c96c0c" stroke-width="0.9"/>
<circle cx="217.96" cy="1415.6" r="4.6" fill="#ea8012" stroke="#c96c0c" stroke-width="0.9"/>
<circle cx="257.68" cy="1351.2" r="4.6" fill="#ea8012" stroke="#c96c0c" stroke-width="0.9"/>
<circle cx="257.68" cy="1370.6" r="4.6" fill="#ea8012" stroke="#c96c0c" stroke-width="0.9"/>
<circle cx="257.68" cy="1435.6" r="4.6" fill="#ea8012" stroke="#c96c0c" stroke-width="0.9"/>
<circle cx="297.4" cy="1447.1" r="4.6" fill="#ea8012" stroke="#c96c0c" stroke-width="0.9"/>
<circle cx="376.84" cy="1346.4" r="4.6" fill="#ea8012" stroke="#c96c0c" stroke-width="0.9"/>
<circle cx="376.84" cy="1418.5" r="4.6" fill="#ea8012" stroke="#c96c0c" stroke-width="0.9"/>
<circle cx="416.56" cy="1289.1" r="4.6" fill="#ea8012" stroke="#c96c0c" stroke-width="0.9"/>
<circle cx="416.56" cy="1416.6" r="4.6" fill="#ea8012" stroke="#c96c0c" stroke-width="0.9"/>
<circle cx="456.28" cy="1269.3" r="4.6" fill="#ea8012" stroke="#c96c0c" stroke-width="0.9"/>
<circle cx="456.28" cy="1404" r="4.6" fill="#ea8012" stroke="#c96c0c" stroke-width="0.9"/>
<circle cx="535.72" cy="1439.3" r="4.6" fill="#ea8012" stroke="#c96c0c" stroke-width="0.9"/>
<circle cx="575.44" cy="1399.6" r="4.6" fill="#ea8012" stroke="#c96c0c" stroke-width="0.9"/>
<circle cx="575.44" cy="1500.3" r="4.6" fill="#ea8012" stroke="#c96c0c" stroke-width="0.9"/>
<line x1="98.6" y1="1403" x2="734.2" y2="1436.6" stroke="#233f7b" stroke-width="1.9"/>
<line x1="98.6" y1="1391.5" x2="575.2" y2="1397.2" stroke="#e77d10" stroke-width="1.9"/>
<path d="M87.4 1191V1558.6H746.2" fill="none" stroke="#1a1a1a" stroke-width="1.4" stroke-linejoin="round" stroke-linecap="round"/>
<line x1="80" y1="1202.4" x2="87.4" y2="1202.4" stroke="#1a1a1a" stroke-width="1.4" stroke-linecap="round"/>
<text class="tk" transform="translate(72.9,1202.4) rotate(-90) scale(0.97,1.04)" text-anchor="middle">.4</text>
<line x1="80" y1="1317.4" x2="87.4" y2="1317.4" stroke="#1a1a1a" stroke-width="1.4" stroke-linecap="round"/>
<text class="tk" transform="translate(72.9,1317.4) rotate(-90) scale(0.97,1.04)" text-anchor="middle">.35</text>
<line x1="80" y1="1432.2" x2="87.4" y2="1432.2" stroke="#1a1a1a" stroke-width="1.4" stroke-linecap="round"/>
<text class="tk" transform="translate(72.9,1432.2) rotate(-90) scale(0.97,1.04)" text-anchor="middle">.3</text>
<line x1="80" y1="1547" x2="87.4" y2="1547" stroke="#1a1a1a" stroke-width="1.4" stroke-linecap="round"/>
<text class="tk" transform="translate(72.9,1547) rotate(-90) scale(0.97,1.04)" text-anchor="middle">.25</text>
<line x1="98.8" y1="1558.6" x2="98.8" y2="1565.8" stroke="#1a1a1a" stroke-width="1.4" stroke-linecap="round"/>
<text class="tk" x="98.8" y="1586.4" text-anchor="middle">60</text>
<line x1="297.4" y1="1558.6" x2="297.4" y2="1565.8" stroke="#1a1a1a" stroke-width="1.4" stroke-linecap="round"/>
<text class="tk" x="297.4" y="1586.4" text-anchor="middle">65</text>
<line x1="496" y1="1558.6" x2="496" y2="1565.8" stroke="#1a1a1a" stroke-width="1.4" stroke-linecap="round"/>
<text class="tk" x="496" y="1586.4" text-anchor="middle">70</text>
<line x1="694.6" y1="1558.6" x2="694.6" y2="1565.8" stroke="#1a1a1a" stroke-width="1.4" stroke-linecap="round"/>
<text class="tk" x="694.6" y="1586.4" text-anchor="middle">75</text>
<text class="xt" x="419.9" y="1601.3" text-anchor="middle">Age</text>
<rect x="269.5" y="1619.3" width="294.9" height="58.9" fill="#fff" stroke="#333" stroke-width="1.3"/>
<circle cx="281" cy="1635.8" r="4.6" fill="#1d5189" stroke="#13365f" stroke-width="0.9"/>
<text class="lg" x="296.3" y="1643">nWM</text>
<line x1="367.4" y1="1635.8" x2="436.2" y2="1635.8" stroke="#233f7b" stroke-width="1.9"/>
<text class="lgb" transform="translate(440.6,1639.9) scale(0.9,1)">Older Females</text>
<circle cx="281" cy="1661.5" r="4.6" fill="#ea8012" stroke="#c96c0c" stroke-width="0.9"/>
<text class="lg" x="296.3" y="1668.7">nWM</text>
<line x1="367.4" y1="1661.5" x2="436.2" y2="1661.5" stroke="#e77d10" stroke-width="1.9"/>
<text class="lgb" transform="translate(440.6,1666.1) scale(0.9,1)">Older Males</text>
<text class="let" transform="translate(7,1167.8) scale(1,1.03)">E</text>
<rect x="799" y="1172.1" width="731.1" height="531.9" fill="#eaf0f4"/>
<rect x="852.8" y="1191" width="658.8" height="367.6" fill="#fff"/>
<line x1="853.8" y1="1202.4" x2="1511.6" y2="1202.4" stroke="#e8eef2" stroke-width="1.3"/>
<line x1="853.8" y1="1308.3" x2="1511.6" y2="1308.3" stroke="#e8eef2" stroke-width="1.3"/>
<line x1="853.8" y1="1413.9" x2="1511.6" y2="1413.9" stroke="#e8eef2" stroke-width="1.3"/>
<line x1="853.8" y1="1519.6" x2="1511.6" y2="1519.6" stroke="#e8eef2" stroke-width="1.3"/>
<circle cx="991.4" cy="1434.9" r="4.6" fill="#1d5189" stroke="#13365f" stroke-width="0.9"/>
<circle cx="1023.17" cy="1540.6" r="4.6" fill="#1d5189" stroke="#13365f" stroke-width="0.9"/>
<circle cx="1086.72" cy="1490" r="4.6" fill="#1d5189" stroke="#13365f" stroke-width="0.9"/>
<circle cx="1150.27" cy="1365.4" r="4.6" fill="#1d5189" stroke="#13365f" stroke-width="0.9"/>
<circle cx="1213.82" cy="1409.8" r="4.6" fill="#1d5189" stroke="#13365f" stroke-width="0.9"/>
<circle cx="1213.82" cy="1515.2" r="4.6" fill="#1d5189" stroke="#13365f" stroke-width="0.9"/>
<circle cx="1245.6" cy="1397.2" r="4.6" fill="#1d5189" stroke="#13365f" stroke-width="0.9"/>
<circle cx="1245.6" cy="1445.5" r="4.6" fill="#1d5189" stroke="#13365f" stroke-width="0.9"/>
<circle cx="1245.6" cy="1473" r="4.6" fill="#1d5189" stroke="#13365f" stroke-width="0.9"/>
<circle cx="1277.38" cy="1413.7" r="4.6" fill="#1d5189" stroke="#13365f" stroke-width="0.9"/>
<circle cx="1277.38" cy="1479.1" r="4.6" fill="#1d5189" stroke="#13365f" stroke-width="0.9"/>
<circle cx="1277.38" cy="1490.1" r="4.6" fill="#1d5189" stroke="#13365f" stroke-width="0.9"/>
<circle cx="1309.15" cy="1312.4" r="4.6" fill="#1d5189" stroke="#13365f" stroke-width="0.9"/>
<circle cx="1309.15" cy="1500.2" r="4.6" fill="#1d5189" stroke="#13365f" stroke-width="0.9"/>
<circle cx="1309.15" cy="1504.5" r="4.6" fill="#1d5189" stroke="#13365f" stroke-width="0.9"/>
<circle cx="1340.92" cy="1496" r="4.6" fill="#1d5189" stroke="#13365f" stroke-width="0.9"/>
<circle cx="1372.7" cy="1420" r="4.6" fill="#1d5189" stroke="#13365f" stroke-width="0.9"/>
<circle cx="1372.7" cy="1496" r="4.6" fill="#1d5189" stroke="#13365f" stroke-width="0.9"/>
<circle cx="1404.47" cy="1453.8" r="4.6" fill="#1d5189" stroke="#13365f" stroke-width="0.9"/>
<circle cx="1436.25" cy="1403.3" r="4.6" fill="#1d5189" stroke="#13365f" stroke-width="0.9"/>
<circle cx="1436.25" cy="1471.1" r="4.6" fill="#1d5189" stroke="#13365f" stroke-width="0.9"/>
<circle cx="1436.25" cy="1479.1" r="4.6" fill="#1d5189" stroke="#13365f" stroke-width="0.9"/>
<circle cx="1436.25" cy="1508.8" r="4.6" fill="#1d5189" stroke="#13365f" stroke-width="0.9"/>
<circle cx="1468.03" cy="1445.6" r="4.6" fill="#1d5189" stroke="#13365f" stroke-width="0.9"/>
<circle cx="1468.03" cy="1508.8" r="4.6" fill="#1d5189" stroke="#13365f" stroke-width="0.9"/>
<circle cx="1499.8" cy="1433" r="4.6" fill="#1d5189" stroke="#13365f" stroke-width="0.9"/>
<circle cx="1499.8" cy="1443.4" r="4.6" fill="#1d5189" stroke="#13365f" stroke-width="0.9"/>
<circle cx="1499.8" cy="1477.4" r="4.6" fill="#1d5189" stroke="#13365f" stroke-width="0.9"/>
<circle cx="959.62" cy="1498.3" r="4.6" fill="#5b7d2e" stroke="#415b1f" stroke-width="0.9"/>
<circle cx="959.62" cy="1521.6" r="4.6" fill="#5b7d2e" stroke="#415b1f" stroke-width="0.9"/>
<circle cx="1023.17" cy="1494.2" r="4.6" fill="#5b7d2e" stroke="#415b1f" stroke-width="0.9"/>
<circle cx="1054.95" cy="1286.8" r="4.6" fill="#5b7d2e" stroke="#415b1f" stroke-width="0.9"/>
<circle cx="1086.72" cy="1422.4" r="4.6" fill="#5b7d2e" stroke="#415b1f" stroke-width="0.9"/>
<circle cx="1086.72" cy="1475.2" r="4.6" fill="#5b7d2e" stroke="#415b1f" stroke-width="0.9"/>
<circle cx="1118.5" cy="1356.7" r="4.6" fill="#5b7d2e" stroke="#415b1f" stroke-width="0.9"/>
<circle cx="1118.5" cy="1471.1" r="4.6" fill="#5b7d2e" stroke="#415b1f" stroke-width="0.9"/>
<circle cx="1118.5" cy="1502.7" r="4.6" fill="#5b7d2e" stroke="#415b1f" stroke-width="0.9"/>
<circle cx="1118.5" cy="1546.9" r="4.6" fill="#5b7d2e" stroke="#415b1f" stroke-width="0.9"/>
<circle cx="1150.27" cy="1344.2" r="4.6" fill="#5b7d2e" stroke="#415b1f" stroke-width="0.9"/>
<circle cx="1245.6" cy="1373.6" r="4.6" fill="#5b7d2e" stroke="#415b1f" stroke-width="0.9"/>
<circle cx="1245.6" cy="1384" r="4.6" fill="#5b7d2e" stroke="#415b1f" stroke-width="0.9"/>
<circle cx="1245.6" cy="1386.8" r="4.6" fill="#5b7d2e" stroke="#415b1f" stroke-width="0.9"/>
<circle cx="1245.6" cy="1422.4" r="4.6" fill="#5b7d2e" stroke="#415b1f" stroke-width="0.9"/>
<circle cx="1309.15" cy="1377.8" r="4.6" fill="#5b7d2e" stroke="#415b1f" stroke-width="0.9"/>
<circle cx="1309.15" cy="1392.5" r="4.6" fill="#5b7d2e" stroke="#415b1f" stroke-width="0.9"/>
<circle cx="1340.92" cy="1418.1" r="4.6" fill="#5b7d2e" stroke="#415b1f" stroke-width="0.9"/>
<circle cx="1340.92" cy="1430.4" r="4.6" fill="#5b7d2e" stroke="#415b1f" stroke-width="0.9"/>
<circle cx="1340.92" cy="1449.9" r="4.6" fill="#5b7d2e" stroke="#415b1f" stroke-width="0.9"/>
<circle cx="1372.7" cy="1247" r="4.6" fill="#5b7d2e" stroke="#415b1f" stroke-width="0.9"/>
<circle cx="1372.7" cy="1299.8" r="4.6" fill="#5b7d2e" stroke="#415b1f" stroke-width="0.9"/>
<circle cx="1372.7" cy="1441.2" r="4.6" fill="#5b7d2e" stroke="#415b1f" stroke-width="0.9"/>
<circle cx="1404.47" cy="1420" r="4.6" fill="#5b7d2e" stroke="#415b1f" stroke-width="0.9"/>
<circle cx="1436.25" cy="1335.5" r="4.6" fill="#5b7d2e" stroke="#415b1f" stroke-width="0.9"/>
<circle cx="1436.25" cy="1384.3" r="4.6" fill="#5b7d2e" stroke="#415b1f" stroke-width="0.9"/>
<circle cx="1468.03" cy="1428.7" r="4.6" fill="#5b7d2e" stroke="#415b1f" stroke-width="0.9"/>
<line x1="991.7" y1="1458.4" x2="1499.7" y2="1455.3" stroke="#923a45" stroke-width="1.9"/>
<line x1="959.7" y1="1470.3" x2="1468" y2="1361.1" stroke="#e77d10" stroke-width="1.9"/>
<path d="M852.8 1191V1558.6H1511.6" fill="none" stroke="#1a1a1a" stroke-width="1.4" stroke-linejoin="round" stroke-linecap="round"/>
<line x1="845.4" y1="1202.4" x2="852.8" y2="1202.4" stroke="#1a1a1a" stroke-width="1.4" stroke-linecap="round"/>
<text class="tk" transform="translate(838.3,1202.4) rotate(-90) scale(0.97,1.04)" text-anchor="middle">350</text>
<line x1="845.4" y1="1308.3" x2="852.8" y2="1308.3" stroke="#1a1a1a" stroke-width="1.4" stroke-linecap="round"/>
<text class="tk" transform="translate(838.3,1308.3) rotate(-90) scale(0.97,1.04)" text-anchor="middle">300</text>
<line x1="845.4" y1="1413.9" x2="852.8" y2="1413.9" stroke="#1a1a1a" stroke-width="1.4" stroke-linecap="round"/>
<text class="tk" transform="translate(838.3,1413.9) rotate(-90) scale(0.97,1.04)" text-anchor="middle">250</text>
<line x1="845.4" y1="1519.6" x2="852.8" y2="1519.6" stroke="#1a1a1a" stroke-width="1.4" stroke-linecap="round"/>
<text class="tk" transform="translate(838.3,1519.6) rotate(-90) scale(0.97,1.04)" text-anchor="middle">200</text>
<line x1="864.3" y1="1558.6" x2="864.3" y2="1565.8" stroke="#1a1a1a" stroke-width="1.4" stroke-linecap="round"/>
<text class="tk" x="864.3" y="1586.4" text-anchor="middle">15</text>
<line x1="1023.17" y1="1558.6" x2="1023.17" y2="1565.8" stroke="#1a1a1a" stroke-width="1.4" stroke-linecap="round"/>
<text class="tk" x="1023.17" y="1586.4" text-anchor="middle">20</text>
<line x1="1182.05" y1="1558.6" x2="1182.05" y2="1565.8" stroke="#1a1a1a" stroke-width="1.4" stroke-linecap="round"/>
<text class="tk" x="1182.05" y="1586.4" text-anchor="middle">25</text>
<line x1="1340.92" y1="1558.6" x2="1340.92" y2="1565.8" stroke="#1a1a1a" stroke-width="1.4" stroke-linecap="round"/>
<text class="tk" x="1340.92" y="1586.4" text-anchor="middle">30</text>
<line x1="1499.8" y1="1558.6" x2="1499.8" y2="1565.8" stroke="#1a1a1a" stroke-width="1.4" stroke-linecap="round"/>
<text class="tk" x="1499.8" y="1586.4" text-anchor="middle">35</text>
<text class="xtb" x="1182.6" y="1604.8" text-anchor="middle">Age</text>
<rect x="1040.2" y="1619.3" width="284.2" height="58.9" fill="#fff" stroke="#333" stroke-width="1.3"/>
<circle cx="1051.9" cy="1635.8" r="4.6" fill="#1d5189" stroke="#13365f" stroke-width="0.9"/>
<text class="lg" x="1067.1" y="1643">CSF</text>
<line x1="1131.9" y1="1635.8" x2="1200.3" y2="1635.8" stroke="#923a45" stroke-width="1.9"/>
<text class="lgb" transform="translate(1205.8,1639.9) scale(0.9,1)">Younger Females</text>
<circle cx="1051.9" cy="1661.5" r="4.6" fill="#5b7d2e" stroke="#415b1f" stroke-width="0.9"/>
<text class="lg" x="1067.1" y="1668.7">CSF</text>
<line x1="1131.9" y1="1661.5" x2="1200.3" y2="1661.5" stroke="#e77d10" stroke-width="1.9"/>
<text class="lgb" transform="translate(1205.8,1666.1) scale(0.9,1)">Younger Males</text>
<text class="let" transform="translate(777.3,1167.8) scale(1,1.03)">F</text>
</svg></body></html>
